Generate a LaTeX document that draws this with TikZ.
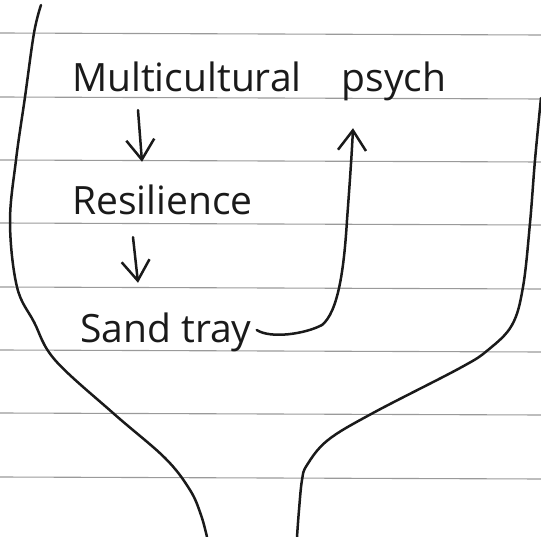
\documentclass[tikz,border=0pt]{standalone}
\usepackage{fontspec}
\setmainfont{Open Sans}
\usetikzlibrary{arrows.meta}
\definecolor{Ink}{HTML}{1A1A1A}
\definecolor{Rule}{HTML}{9A9A9A}

\tikzset{
  handtext/.style={inner sep=0pt, anchor=base west, text height=28pt, text depth=8pt, text=Ink, font=\fontsize{39}{40}\selectfont},
  pen/.style={draw=Ink, line width=2.5pt, line cap=round, line join=round},
  penarrow/.style={pen, -{Straight Barb[length=20pt,width=28pt,line width=2.5pt]}},
  paperline/.style={draw=Rule, line width=1.1pt}
}

\begin{document}
\begin{tikzpicture}[x=1pt, y=-1pt]
\path[fill=white] (0,0) rectangle (541,537);
\useasboundingbox (0,0) rectangle (541,537);
% ruled paper
\foreach \ry in {33,97,160,223,287,350,413,477}
  \draw[paperline] (0,\ry) -- (541,\ry+2);
% funnel walls
\draw[pen] plot[smooth, tension=0.6] coordinates {(41,5) (34,33) (25,97) (16,160) (10,223) (17,287) (34,322) (55,360) (113,413) (165,458) (190,490) (201,515) (207,537)};
\draw[pen] plot[smooth, tension=0.6] coordinates {(541,98) (535,160) (530,223) (523,287) (512,325) (488,350) (460,368) (373,413) (328,440) (307,465) (302,480) (299,510) (297,537)};
% labels
\node[handtext] (multi) at (72,92) {Multicultural\hspace{30pt} psych};
\node[handtext] (resil) at (72,215) {Resilience};
\node[handtext] (sand) at (80,343) {Sand tray};
\coordinate (up) at ([xshift=281pt,yshift=-28pt]multi.south west);
% arrows
\draw[penarrow] ([xshift=66pt,yshift=-10pt]multi.south west) -- ([xshift=70pt,yshift=25pt]resil.north west);
\draw[penarrow] ([xshift=61pt,yshift=-14pt]resil.south west) -- ([xshift=58pt,yshift=32pt]sand.north west);
\draw[penarrow] ([xshift=5pt,yshift=3pt]sand.east) .. controls +(14,9) and (305,334) .. (322,325) .. controls (338,312) and (344,270) .. (347,220) .. controls (350,180) and (352,150) .. (up);
\end{tikzpicture}
\end{document}
